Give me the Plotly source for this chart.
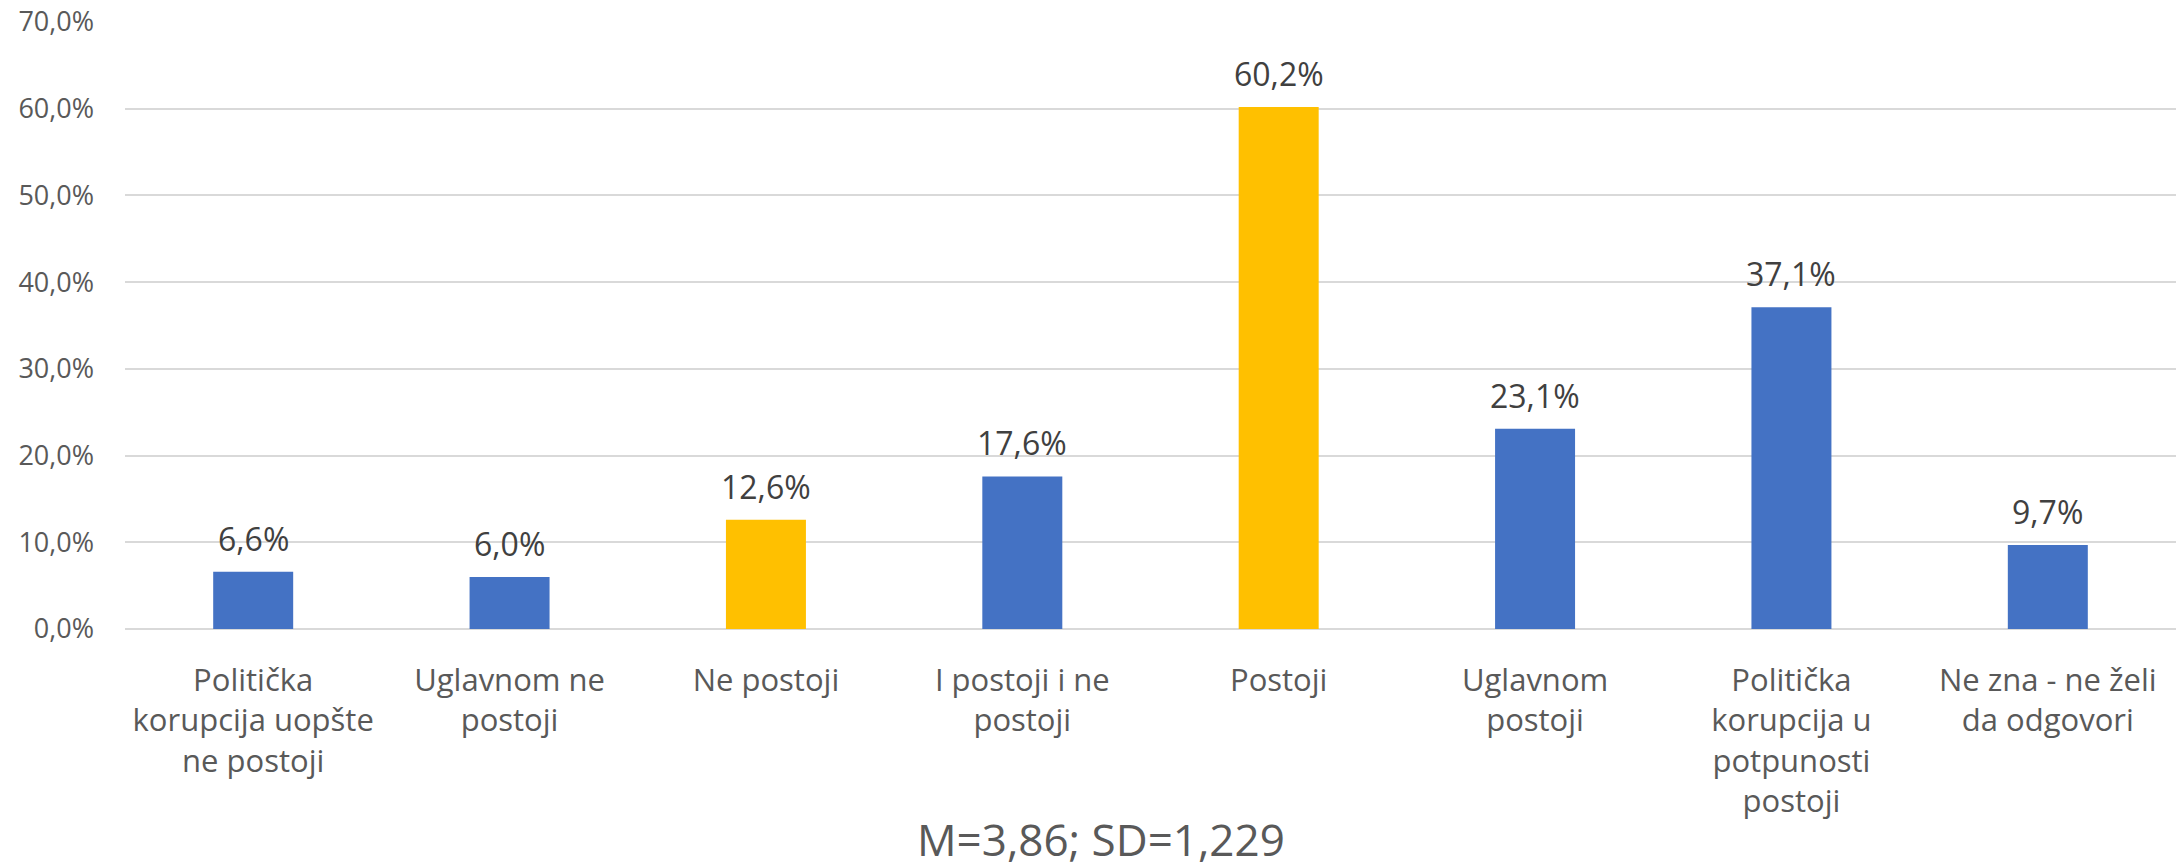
import plotly.graph_objects as go

categories = [
    "Politička<br>korupcija uopšte<br>ne postoji",
    "Uglavnom ne<br>postoji",
    "Ne postoji",
    "I postoji i ne<br>postoji",
    "Postoji",
    "Uglavnom<br>postoji",
    "Politička<br>korupcija u<br>potpunosti<br>postoji",
    "Ne zna - ne želi<br>da odgovori",
]
values = [6.6, 6.0, 12.6, 17.6, 60.2, 23.1, 37.1, 9.7]
bar_colors = ["#4472C4", "#4472C4", "#FFC000", "#4472C4", "#FFC000", "#4472C4", "#4472C4", "#4472C4"]
tick_vals = [0, 10, 20, 30, 40, 50, 60, 70]
tick_text = ["0,0%", "10,0%", "20,0%", "30,0%", "40,0%", "50,0%", "60,0%", "70,0%"]
subtitle = "M=3,86; SD=1,229"

FONT = "Open Sans, DejaVu Sans, sans-serif"

fig = go.Figure()
fig.add_trace(go.Bar(
    x=categories,
    y=values,
    marker=dict(color=bar_colors, line=dict(width=0)),
    hoverinfo="skip",
))

for c, v in zip(categories, values):
    fig.add_annotation(
        x=c, y=v, xref="x", yref="y",
        text=f"{v:.1f}%".replace(".", ","),
        showarrow=False, yanchor="bottom", yshift=10,
        font=dict(family=FONT, size=32, color="#404040"),
    )

fig.add_annotation(
    text=subtitle, xref="paper", yref="paper",
    x=(1101 - 125) / (2183 - 125 - 7), xanchor="center",
    y=-(839 - 629) / (629 - 22), yanchor="middle",
    showarrow=False,
    font=dict(family=FONT, size=44, color="#595959"),
)

fig.update_layout(
    width=2183, height=868,
    margin=dict(l=125, r=7, t=22, b=239, autoexpand=False),
    paper_bgcolor="white", plot_bgcolor="white",
    bargap=0.688,
    showlegend=False,
    font=dict(family=FONT, color="#595959"),
)
fig.update_xaxes(
    showgrid=False, showline=False, ticks="", automargin=False,
    ticklabelstandoff=30,
    tickfont=dict(family=FONT, size=31, color="#595959"),
)
fig.update_yaxes(
    range=[0, 70], tickvals=tick_vals, ticktext=tick_text, automargin=False,
    showgrid=True, gridcolor="#D9D9D9", gridwidth=1.5,
    zeroline=True, zerolinecolor="#D9D9D9", zerolinewidth=1.5,
    showline=False, ticks="", ticklabelstandoff=30,
    tickfont=dict(family=FONT, size=27, color="#595959"),
)

fig.write_html(
    "out.html",
    config={"displayModeBar": False},
    post_script="document.body.style.margin='0';document.body.style.overflow='hidden';",
)
